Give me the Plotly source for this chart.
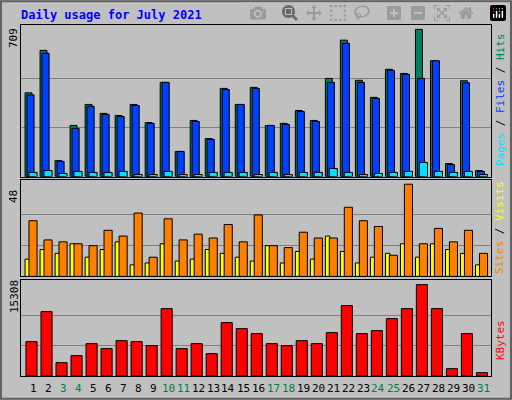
import plotly.graph_objects as go

days = list(range(1, 32))
hits = [404, 608, 78, 247, 348, 305, 295, 348, 261, 454, 122, 271, 184, 425, 348, 430, 247, 257, 319, 271, 473, 657, 464, 382, 517, 497, 709, 558, 64, 462, 30]
files = [394, 594, 74, 233, 339, 300, 290, 343, 257, 454, 122, 266, 180, 420, 348, 425, 247, 252, 314, 266, 454, 642, 454, 377, 512, 493, 473, 558, 59, 452, 26]
pages = [21, 30, 16, 26, 21, 21, 26, 11, 11, 26, 11, 11, 21, 21, 21, 11, 21, 11, 21, 21, 40, 21, 11, 16, 21, 26, 69, 26, 21, 26, 11]
sites = [9, 14, 12, 17, 10, 14, 18, 6, 7, 17, 8, 9, 14, 12, 10, 8, 16, 7, 13, 9, 21, 13, 7, 10, 12, 17, 10, 17, 14, 12, 6]
visits = [29, 19, 18, 17, 16, 24, 21, 33, 10, 30, 19, 22, 20, 27, 18, 32, 16, 15, 23, 20, 20, 36, 29, 26, 11, 48, 17, 25, 18, 24, 12]
kbytes = [5755, 10783, 2235, 3408, 5419, 4581, 5922, 5755, 5084, 11286, 4581, 5419, 3743, 8939, 7934, 7095, 5419, 5084, 5922, 5419, 7263, 11788, 7095, 7598, 9610, 11286, 15308, 11286, 1229, 7095, 559]
weekend = [3, 4, 10, 11, 17, 18, 24, 25, 31]

fig = go.Figure()
ln = dict(color="black", width=1)
def bar(y, color, off, w, ax):
    fig.add_trace(go.Bar(x=days, y=y, marker=dict(color=color, line=ln), offset=off, width=w,
                         xaxis="x" + ax, yaxis="y" + ax, showlegend=False, hoverinfo="skip"))

bar(hits, "#00805c", -0.53, 0.46, "")
bar(files, "#0040ff", -0.4, 0.47, "")
bar(pages, "#00e0ff", -0.27, 0.54, "")
bar(sites, "#ffff00", -0.53, 0.3, "2")
bar(visits, "#ff8000", -0.27, 0.54, "2")
bar(kbytes, "#ff0000", -0.47, 0.74, "3")

xr = [0.2, 31.5]
dom = [21/512, 491/512]
common_x = dict(range=xr, domain=dom, showticklabels=False, showgrid=False, zeroline=False,
                showline=True, linecolor="black", mirror=True, fixedrange=True)
fig.update_layout(
    width=512, height=400, margin=dict(l=0, r=0, t=0, b=0),
    paper_bgcolor="#c0c0c0", plot_bgcolor="#c0c0c0", barmode="overlay",
    font=dict(family="DejaVu Sans Mono", size=11, color="black"),
    xaxis=dict(common_x, anchor="y"),
    xaxis2=dict(common_x, anchor="y2"),
    xaxis3=dict(common_x, anchor="y3"),
    yaxis=dict(domain=[0.558, 0.9375], range=[0, 730], tickvals=[236, 473], showticklabels=False,
               gridcolor="#808080", showline=True, linecolor="black", mirror=True, zeroline=False, anchor="x"),
    yaxis2=dict(domain=[0.309, 0.55], range=[0, 50.2], tickvals=[16, 32], showticklabels=False,
                gridcolor="#808080", showline=True, linecolor="black", mirror=True, zeroline=False, anchor="x2"),
    yaxis3=dict(domain=[0.06, 0.30], range=[0, 16080], tickvals=[5103, 10205], showticklabels=False,
                gridcolor="#808080", showline=True, linecolor="black", mirror=True, zeroline=False, anchor="x3"),
)

ann = [
    dict(x=19/512, y=1-15/400, text="<b>Daily usage for July 2021</b>", xanchor="left", yanchor="middle",
         font=dict(color="#0000ff", size=12)),
    dict(x=14/512, y=1-38/400, text="709", textangle=-90),
    dict(x=14/512, y=1-197/400, text="48", textangle=-90),
    dict(x=14/512, y=1-297/400, text="15308", textangle=-90),
    dict(x=500/512, y=1-100/400, textangle=-90,
         text='<span style="color:#00e0ff">Pages</span> / <span style="color:#0040ff">Files</span> / <span style="color:#00805c">Hits</span>'),
    dict(x=500/512, y=1-228/400, textangle=-90,
         text='<span style="color:#ff8000">Sites</span> / <span style="color:#ffff00">Visits</span>'),
    dict(x=500/512, y=1-340/400, textangle=-90, text='<span style="color:#ff0000">KBytes</span>'),
]
for a in ann:
    a.setdefault("xanchor", "center"); a.setdefault("yanchor", "middle")
    fig.add_annotation(xref="paper", yref="paper", showarrow=False, **a)
for d in days:
    fig.add_annotation(x=d, y=1-388/400, xref="x", yref="paper", showarrow=False, text=str(d),
                       font=dict(color="#008040" if d in weekend else "black", size=11),
                       xanchor="center", yanchor="middle")

fig.add_shape(type="rect", xref="paper", yref="paper", x0=0.002, y0=0.003, x1=0.998, y1=0.997,
              line=dict(color="#606060", width=2))
fig.write_html("out.html", post_script="document.body.style.margin='0';document.body.style.overflow='hidden';")
